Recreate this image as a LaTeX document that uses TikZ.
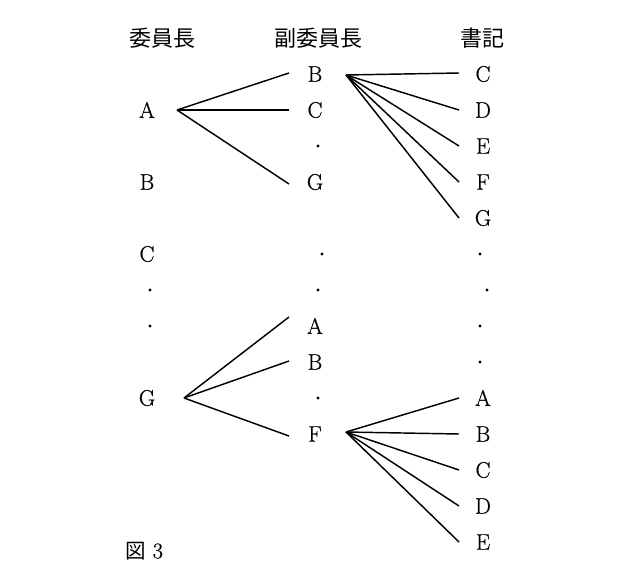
\documentclass[tikz,border=0pt]{standalone}
\usepackage{fontspec}
\newfontfamily\cjk{Noto Sans CJK JP}
\newfontfamily\lmh{lmroman17-regular.otf}[FakeBold=0.6]
\begin{document}
\begin{tikzpicture}[x=1pt,y=-1pt,
  lab/.style={font=\lmh\fontsize{22.5}{22.5}\selectfont, inner sep=0pt, anchor=center},
  head/.style={font=\cjk\fontsize{22}{22}\selectfont, inner sep=0pt},
  pt/.style={circle, fill=black, inner sep=0pt, minimum size=3.4pt},
  ln/.style={line width=1.45pt}]
\useasboundingbox (0,0) rectangle (630,578);
% headers
\node[head] (h1) at (162,38) {委員長};
\node[head] (h2) at (318,38) {副委員長};
\node[head] (h3) at (482,38) {書記};
% left column
\node[lab] (LA) at (147,110) {A};
\node[lab] (LB) at (147,182) {B};
\node[lab] (LC) at (147,254) {C};
\node[pt] (Ld1) at (150,290) {};
\node[pt] (Ld2) at (150,326) {};
\node[lab] (LG) at (147,398) {G};
% middle column
\node[lab] (MB) at (315,74) {B};
\node[lab] (MC) at (315,110) {C};
\node[pt] (Md1) at (318,146) {};
\node[lab] (MG) at (315,182) {G};
\node[pt] (Md2) at (322,254) {};
\node[pt] (Md3) at (318,290) {};
\node[lab] (MA2) at (315,326) {A};
\node[lab] (MB2) at (315,362) {B};
\node[pt] (Md4) at (318,398) {};
\node[lab] (MF2) at (315,434) {F};
% right column
\node[lab] (RC) at (483,74) {C};
\node[lab] (RD) at (483,110) {D};
\node[lab] (RE) at (483,146) {E};
\node[lab] (RF) at (483,182) {F};
\node[lab] (RG) at (483,218) {G};
\node[pt] (Rd1) at (480,254) {};
\node[pt] (Rd2) at (487,290) {};
\node[pt] (Rd3) at (480,326) {};
\node[pt] (Rd4) at (480,362) {};
\node[lab] (RA2) at (483,398) {A};
\node[lab] (RB2) at (483,434) {B};
\node[lab] (RC2) at (483,470) {C};
\node[lab] (RD2) at (483,506) {D};
\node[lab] (RE2) at (483,542) {E};
% caption
\node[anchor=west, inner sep=0pt] (cap) at (125,551) {{\cjk\fontsize{20.5}{20.5}\selectfont 図}\hspace{7pt}{\lmh\fontsize{22.5}{22.5}\selectfont 3}};
% connectors
\coordinate (aS) at (177,110);
\draw[ln] (aS) -- ([xshift=-26pt,yshift=1pt]MB.center);
\draw[ln] (aS) -- ([xshift=-26pt]MC.center);
\draw[ln] (aS) -- ([xshift=-26pt,yshift=-2pt]MG.center);
\coordinate (bS) at (346,75);
\foreach \n/\dy in {RC/1,RD/0,RE/0,RF/0,RG/0}
  \draw[ln] (bS) -- ([xshift=-24pt,yshift=\dy pt]\n.center);
\coordinate (gS) at (184,398);
\draw[ln] (gS) -- ([xshift=-26pt,yshift=9pt]MA2.center);
\draw[ln] (gS) -- ([xshift=-26pt,yshift=1pt]MB2.center);
\draw[ln] (gS) -- ([xshift=-26pt,yshift=-2pt]MF2.center);
\coordinate (fS) at (346,432);
\foreach \n in {RA2,RB2,RC2,RD2,RE2}
  \draw[ln] (fS) -- ([xshift=-24pt]\n.center);
\end{tikzpicture}
\end{document}
